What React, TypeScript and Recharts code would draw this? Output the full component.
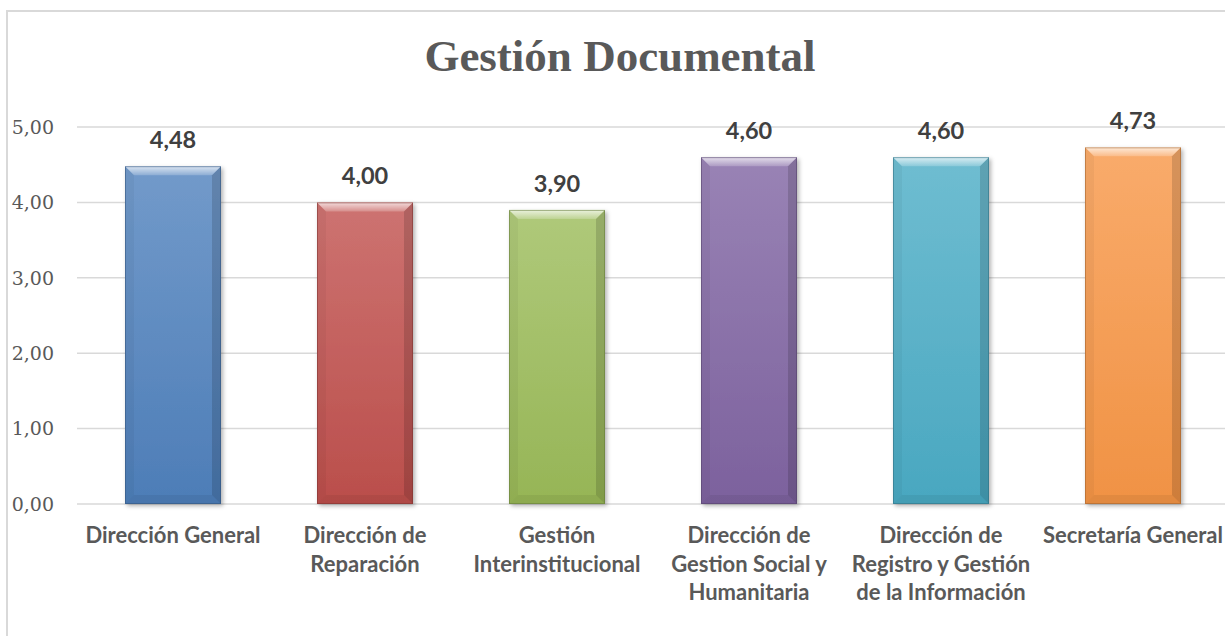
import { BarChart, Bar, XAxis, YAxis, CartesianGrid, Cell, LabelList } from "recharts";

const CATEGORIES = [
  "Dirección General",
  "Dirección de\nReparación",
  "Gestión\nInterinstitucional",
  "Dirección de\nGestion Social y\nHumanitaria",
  "Dirección de\nRegistro y Gestión\nde la Información",
  "Secretaría General",
];
const SCORES = [4.48, 4.0, 3.9, 4.6, 4.6, 4.73];
const Y_TICKS = [0, 1, 2, 3, 4, 5];
const TITLE = "Gestión Documental";

// Office 2007 palette
const COLORS = ["#4f81bd", "#c0504d", "#9bbb59", "#8064a2", "#4bacc6", "#f79646"];

const data = CATEGORIES.map((name, i) => ({ name, value: SCORES[i] }));

const fmt = (v: number) => v.toFixed(2).replace(".", ",");

const mix = (hex: string, to: number, t: number) => {
  const n = parseInt(hex.slice(1), 16);
  const c = [(n >> 16) & 255, (n >> 8) & 255, n & 255].map((v) => Math.round(v + (to - v) * t));
  return `rgb(${c[0]},${c[1]},${c[2]})`;
};

const BevelBar = (props: any) => {
  const { x, y, width: w, height: h, fill, index } = props;
  if (!h || h <= 0) return null;
  const b = Math.min(9, w / 4, h / 2);
  const gid = `bg-${index}`;
  const tid = `tb-${index}`;
  const sid = `sh-${index}`;
  return (
    <g>
      <defs>
        <linearGradient id={gid} x1="0" y1="0" x2="0" y2="1">
          <stop offset="0" stopColor={mix(fill, 255, 0.2)} />
          <stop offset="1" stopColor={mix(fill, 0, 0.03)} />
        </linearGradient>
        <linearGradient id={tid} x1="0" y1="0" x2="0" y2="1">
          <stop offset="0" stopColor="#fff" stopOpacity={0.75} />
          <stop offset="1" stopColor="#fff" stopOpacity={0.2} />
        </linearGradient>
        <filter id={sid} x="-20%" y="-10%" width="140%" height="120%">
          <feDropShadow dx="2" dy="2" stdDeviation="2.2" floodColor="#000" floodOpacity="0.3" />
        </filter>
      </defs>
      <rect x={x} y={y} width={w} height={h} fill={`url(#${gid})`} filter={`url(#${sid})`} />
      <polygon points={`${x},${y} ${x + w},${y} ${x + w - b},${y + b} ${x + b},${y + b}`} fill={`url(#${tid})`} />
      <polygon points={`${x},${y} ${x + b},${y + b} ${x + b},${y + h - b} ${x},${y + h}`} fill="#000" fillOpacity={0.04} />
      <polygon points={`${x + w},${y} ${x + w},${y + h} ${x + w - b},${y + h - b} ${x + w - b},${y + b}`} fill="#000" fillOpacity={0.14} />
      <polygon points={`${x},${y + h} ${x + w},${y + h} ${x + w - b},${y + h - b} ${x + b},${y + h - b}`} fill="#000" fillOpacity={0.06} />
      <rect x={x + 0.5} y={y + 0.5} width={w - 1} height={h - 1} fill="none" stroke={mix(fill, 0, 0.35)} strokeOpacity={0.55} />
    </g>
  );
};

const CategoryTick = (props: any) => {
  const { x, y, payload } = props;
  const lines = String(payload.value).split("\n");
  return (
    <text
      x={x}
      y={y}
      textAnchor="middle"
      fill="#595959"
      style={{ fontFamily: "Lato, sans-serif", fontWeight: 700, fontSize: 22 }}
    >
      {lines.map((l, i) => (
        <tspan key={i} x={x} dy={i === 0 ? 31 : 28.5}>
          {l}
        </tspan>
      ))}
    </text>
  );
};

const ValueLabel = (props: any) => {
  const { x, y, width, value } = props;
  return (
    <text
      x={x + width / 2}
      y={y - 18}
      textAnchor="middle"
      fill="#404040"
      style={{ fontFamily: "Lato, sans-serif", fontWeight: 700, fontSize: 23.5 }}
    >
      {fmt(value)}
    </text>
  );
};

export default function App() {
  return (
    <div
      style={{
        position: "absolute",
        left: 0,
        top: 0,
        width: 1225,
        height: 636,
        overflow: "hidden",
        background: "#fff",
      }}
    >
      <div
        style={{
          position: "absolute",
          left: 6,
          top: 10,
          width: 1260,
          height: 700,
          border: "2px solid #d9d9d9",
        }}
      />
      <svg width={1240} height={120} style={{ position: "absolute", left: 0, top: 0 }}>
        <text
          x={620}
          y={71}
          textAnchor="middle"
          fill="#595959"
          style={{ fontFamily: "'Liberation Serif', serif", fontWeight: 700, fontSize: 45 }}
        >
          {TITLE}
        </text>
      </svg>
      <div style={{ position: "absolute", left: 0, top: 0 }}>
        <BarChart
          width={1240}
          height={636}
          data={data}
          margin={{ top: 127, right: 11, bottom: 0, left: 0 }}
          barCategoryGap="25%"
        >
          <CartesianGrid vertical={false} stroke="#d9d9d9" strokeWidth={1.5} />
          <XAxis
            dataKey="name"
            height={132}
            axisLine={false}
            tickLine={false}
            interval={0}
            tick={<CategoryTick />}
          />
          <YAxis
            width={77}
            domain={[0, 5]}
            ticks={Y_TICKS}
            axisLine={false}
            tickLine={false}
            tickMargin={17}
            tickFormatter={fmt}
            tick={{ fill: "#595959", fontSize: 19, fontFamily: "'DejaVu Serif', serif" }}
          />
          <Bar dataKey="value" shape={<BevelBar />} isAnimationActive={false}>
            {data.map((_, i) => (
              <Cell key={i} fill={COLORS[i]} />
            ))}
            <LabelList dataKey="value" content={<ValueLabel />} />
          </Bar>
        </BarChart>
      </div>
    </div>
  );
}
